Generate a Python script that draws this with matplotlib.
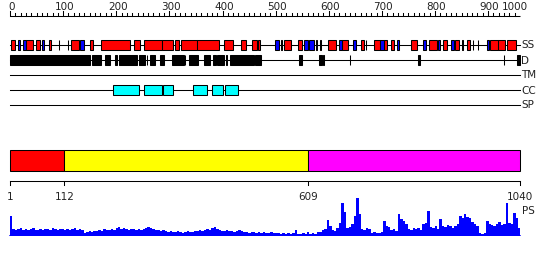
import matplotlib
matplotlib.use("Agg")
import matplotlib.pyplot as plt
from matplotlib.patches import Rectangle
import numpy as np

# ---------------- data ----------------
LENGTH = 1040

helix = [(3, 12), (34, 48), (53, 62), (80, 85), (101, 101), (119, 119), (126, 141),
         (163, 171), (186, 246), (254, 266), (275, 310), (311, 334), (337, 345),
         (349, 381), (381, 427), (436, 456), (472, 481), (495, 505), (507, 510),
         (553, 555), (560, 573), (588, 595), (625, 627), (633, 635), (648, 666),
         (677, 690), (717, 723), (726, 726), (743, 755), (763, 770), (778, 784),
         (817, 831), (855, 870), (883, 892), (908, 916), (921, 923), (932, 938),
         (945, 945), (955, 955), (979, 996), (996, 1010), (1014, 1032)]
strand = [(18, 22), (28, 33), (67, 71), (144, 151), (541, 550), (600, 608), (611, 621),
          (672, 677), (700, 706), (755, 763), (789, 793), (842, 848), (872, 877),
          (899, 905), (972, 977)]
disorder = [(1, 164), (169, 186), (195, 205), (215, 220), (223, 259), (264, 276),
            (281, 281), (286, 296), (307, 315), (331, 355), (357, 357), (366, 384),
            (396, 408), (414, 421), (422, 437), (441, 444), (449, 498), (500, 512),
            (590, 595), (630, 636), (638, 641), (694, 694), (832, 836), (1008, 1008),
            (1033, 1040)]
transmem = []
coiled = [(211, 264), (274, 310), (313, 334), (374, 403), (413, 434), (438, 466)]
signal = []

track_names = ["SS", "D", "TM", "CC", "SP"]

domain_starts = [1, 112, 609]
domain_ends = [112, 609, 1040]
domain_colors = ["#ff0000", "#ffff00", "#ff00ff"]
domain_ticks = [1, 112, 609, 1040]

ruler_labels = [0, 100, 200, 300, 400, 500, 600, 700, 800, 900, 1000]
ruler_max = 960  # ruler units spanning the whole sequence

# PS profile, one value per 5-residue bin
ps_bin = 5
ps = [20, 7, 6, 7, 8, 6, 7, 6, 7, 8, 6,
      6, 7, 6, 7, 7, 6, 8, 7, 6, 7,
      7, 6, 7, 6, 7, 8, 6, 7, 6,
      3, 4, 5, 4, 5, 5,
      6, 5, 7, 6, 6, 7, 6,
      8, 9, 7, 8, 7,
      6, 7, 7, 6, 7, 6, 7,
      8, 9, 8, 7,
      6, 6, 5, 6, 5,
      4, 5, 4, 4, 5, 4, 3, 4, 5, 4, 4, 5,
      5, 6, 5, 6, 7, 6,
      8, 9, 7,
      6, 5, 5, 6, 5, 5, 4, 5, 6, 5, 4,
      4, 3, 4, 4, 3, 4, 3, 4, 3, 3, 4, 3, 3, 3,
      2, 3, 2, 3, 2, 3,
      6,
      2, 2, 3, 2, 4, 2, 3, 2,
      4, 4, 6, 7, 16, 10, 6, 5, 8, 13,
      33, 24, 8, 9, 12, 20, 38, 22, 7, 6,
      8, 7, 3, 4, 3, 3, 4, 15, 10, 9,
      6, 7, 5, 22, 17, 15, 12, 7, 6,
      8, 7, 8, 6, 12, 13, 25, 9, 8, 10, 7, 17,
      10, 9, 11, 10, 8, 10, 12,
      20, 18, 22, 19, 18, 14, 12, 10,
      3, 2, 3, 15, 12, 11,
      10, 12, 14, 11, 12, 33, 13, 12, 23, 18, 8]

# ---------------- layout ----------------
W, H = 550, 260
X0, X1 = 10, 520
ppr = (X1 - X0) / (LENGTH - 1)
XLIM = (1 - X0 / ppr, LENGTH + (W - X1) / ppr)
FS = 7.5
FONT = "DejaVu Sans"
LW = 0.75

fig = plt.figure(figsize=(W / 100, H / 100), dpi=100)
fig.patch.set_facecolor("white")
ax = fig.add_axes([0, 0, 1, 1])
ax.set_xlim(*XLIM)
ax.set_ylim(H, 0)
ax.axis("off")

px = 1 / ppr  # one pixel in residue units

# ruler
RULER_Y = 15.5
ax.plot([1, LENGTH], [RULER_Y, RULER_Y], color="black", lw=LW, solid_capstyle="butt")
def ruler_res(v):
    return 1 + v * (LENGTH - 1) / ruler_max
for v in range(0, ruler_max, 10):
    r = ruler_res(v)
    h = 4.5 if v % 100 == 0 else 3
    ax.plot([r, r], [RULER_Y, RULER_Y - h], color="black", lw=LW)
for v in ruler_labels:
    r = ruler_res(v) + 1.5 * px
    if r > LENGTH:
        r = LENGTH - 18 * px
        ax.text(r, RULER_Y - 5.5, str(v), ha="left", va="baseline",
                fontsize=FS, family=FONT, color="#222222")
    else:
        ax.text(r, RULER_Y - 5.5, str(v), ha="center", va="baseline",
                fontsize=FS, family=FONT, color="#222222")

# tracks
track_y = {"SS": 45, "D": 60, "TM": 75, "CC": 90, "SP": 105}
BOX_H = 10
for name in track_names:
    y = track_y[name]
    ax.plot([1, LENGTH], [y, y], color="black", lw=LW, zorder=1)
    ax.text(LENGTH + 1 * px, y + 0.5, name, ha="left", va="center",
            fontsize=FS, family=FONT, color="#222222")

def boxes(segs, y, color):
    for s, e in segs:
        ax.add_patch(Rectangle((s, y - BOX_H / 2), max(e - s, 0), BOX_H,
                               facecolor=color, edgecolor="black", lw=LW, zorder=2))

boxes(helix, track_y["SS"], "#ff0000")
boxes(strand, track_y["SS"], "#0000ff")
boxes(disorder, track_y["D"], "black")
boxes(transmem, track_y["TM"], "#00ff00")
boxes(coiled, track_y["CC"], "#00ffff")
boxes(signal, track_y["SP"], "#ff8800")

# domain bar
for s, e, c in zip(domain_starts, domain_ends, domain_colors):
    ax.add_patch(Rectangle((s, 150), e - s, 20.5, facecolor=c,
                           edgecolor="black", lw=LW, zorder=2))

AXIS_Y = 180.5
ax.plot([1, LENGTH], [AXIS_Y, AXIS_Y], color="black", lw=LW)
for t in domain_ticks:
    ax.plot([t, t], [AXIS_Y, AXIS_Y + 4], color="black", lw=LW)
    ax.text(t, AXIS_Y + 19, str(t), ha="center", va="baseline",
            fontsize=FS, family=FONT, color="#222222")

# PS profile
BASE_Y, TOP_Y = 236, 196
ax_ps = fig.add_axes([0, (H - BASE_Y) / H, 1, (BASE_Y - TOP_Y) / H])
ax_ps.set_xlim(*XLIM)
ax_ps.set_ylim(0, 40)
ax_ps.axis("off")
ax_ps.patch.set_alpha(0)
edges = [1 + ps_bin * i for i in range(len(ps))] + [LENGTH]
vals = ps + [ps[-1]]
ax_ps.fill_between(edges, 0, vals, step="post", color="#0000ff", lw=0)
ax_ps.plot([1, LENGTH], [0.3, 0.3], color="#0000ff", lw=1.2)
ax.text(LENGTH + 2 * px, 210.5, "PS", ha="left", va="center",
        fontsize=FS, family=FONT, color="#222222")

fig.savefig("out.png", dpi=100, facecolor="white")
